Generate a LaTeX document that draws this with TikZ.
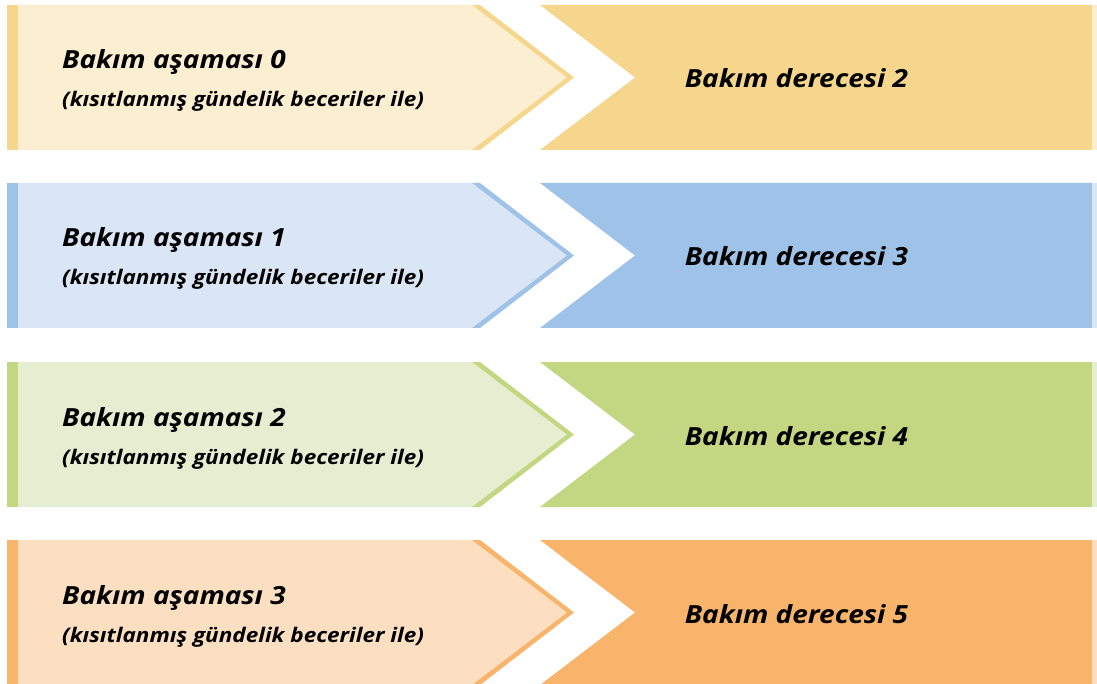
\documentclass[tikz,border=0pt]{standalone}
\usepackage{fontspec}
\setmainfont{Open Sans}[FakeStretch=1.12]
\definecolor{ylight}{HTML}{FCEED1}
\definecolor{ydark}{HTML}{F6D68C}
\definecolor{blight}{HTML}{DAE6F5}
\definecolor{bdark}{HTML}{9FC3E8}
\definecolor{glight}{HTML}{E6EDD0}
\definecolor{gdark}{HTML}{C3D682}
\definecolor{olight}{HTML}{FCDFC1}
\definecolor{odark}{HTML}{F9B46C}
\tikzset{
  stagetext/.style={anchor=base west, inner sep=0pt, font=\fontsize{25}{29}\selectfont\bfseries\itshape},
  notetext/.style={anchor=base west, inner sep=0pt, font=\fontsize{20.1}{24}\selectfont\bfseries\itshape},
  degreetext/.style={anchor=base, inner sep=0pt, font=\fontsize{25}{29}\selectfont\bfseries\itshape},
}
\begin{document}
\begin{tikzpicture}[x=1pt,y=-1pt]
\useasboundingbox (0,0) rectangle (1097,684);

\foreach \i/\t/\lc/\dc/\g in {0/5/ylight/ydark/2, 1/183/blight/bdark/3, 2/362/glight/gdark/4, 3/540/olight/odark/5} {
  %% stage arrow
  \fill[\lc] (18,\t) -- (472,\t) -- (567,\t+72.5) -- (472,\t+145) -- (18,\t+145) -- cycle;
  \fill[\dc] (7,\t) rectangle (18,\t+145);
  \fill[\dc] (472,\t) -- (480,\t) -- (574,\t+72.5) -- (480,\t+145) -- (472,\t+145) -- (567,\t+72.5) -- cycle;
  \node[stagetext] (stage\i) at (62,\t+64) {Bakım aşaması \i};
  \node[notetext] (note\i) at (62,\t+102) {(kısıtlanmış gündelik beceriler ile)};
  %% degree chevron
  \fill[\dc] (540,\t) -- (1092,\t) -- (1092,\t+145) -- (540,\t+145) -- (635,\t+72.5) -- cycle;
  \fill[\lc] (1092,\t) rectangle (1097,\t+145);
  \node[degreetext] (degree\i) at (796.5,\t+83) {Bakım derecesi \g};
}

\end{tikzpicture}
\end{document}
